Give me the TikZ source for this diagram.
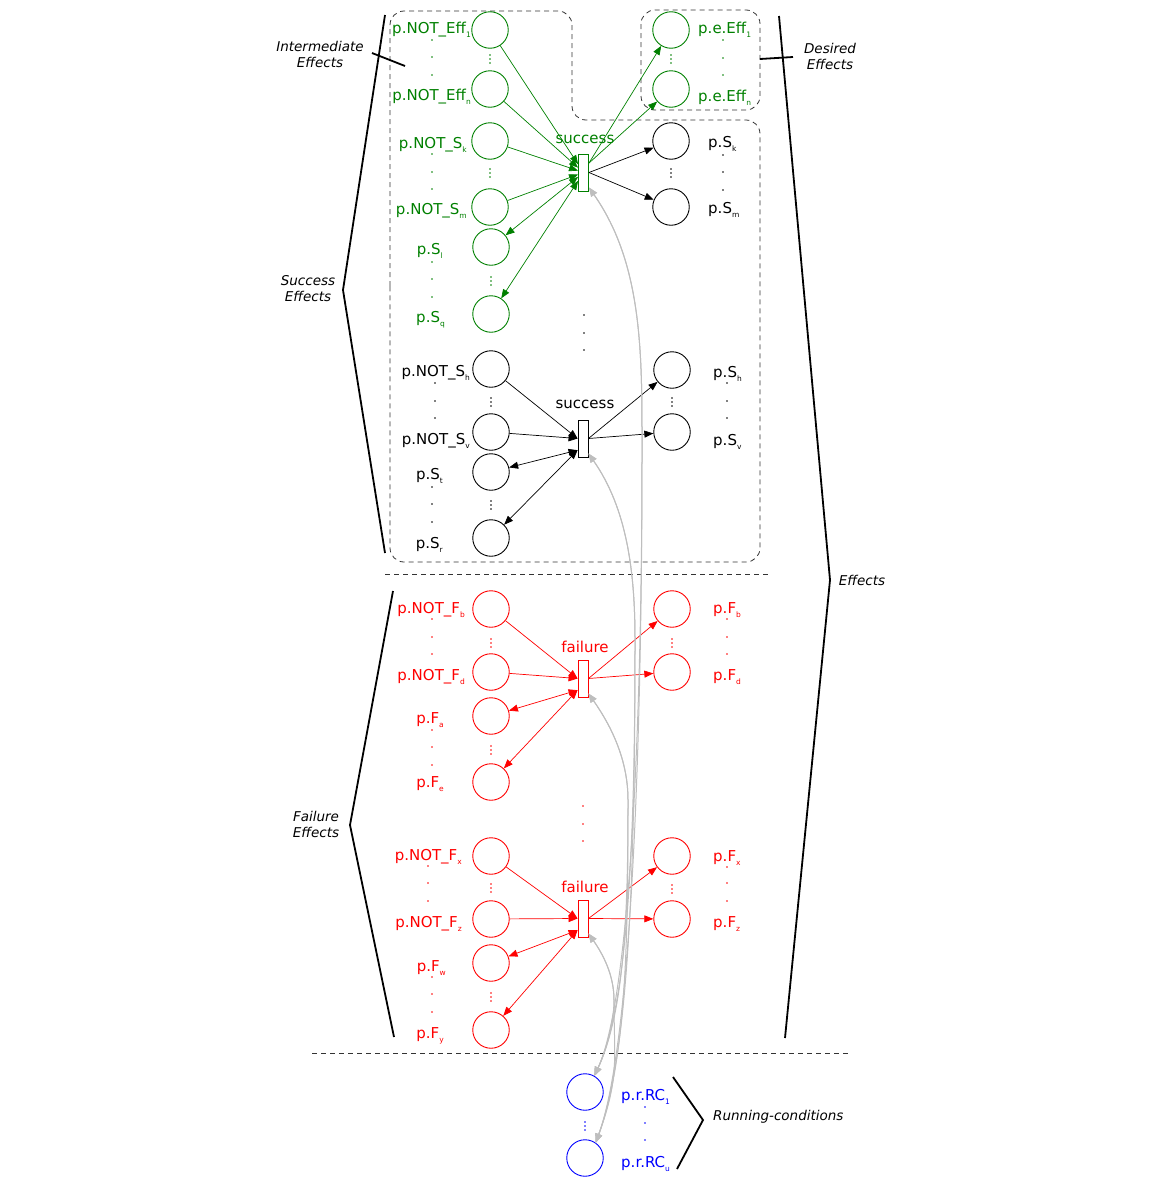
\documentclass[tikz,border=0pt]{standalone}
\usepackage{fontspec}
\setmainfont{DejaVu Sans}
\usetikzlibrary{arrows.meta}
\definecolor{gr}{RGB}{0,128,0}
\definecolor{rd}{RGB}{255,0,0}
\definecolor{bl}{RGB}{0,0,255}
\definecolor{lg}{RGB}{190,190,190}
\newcommand\sbs[1]{\raisebox{-4pt}{\fontsize{7.5}{7.5}\selectfont #1}}
\newcommand\tdots[4]{\fill (#1,-#2) circle (0.9pt) (#1,-#3) circle (0.9pt) (#1,-#4) circle (0.9pt);}
\newcommand\vel[2]{\fill (#1,-#2+4) circle (0.8pt) (#1,-#2) circle (0.8pt) (#1,-#2-4) circle (0.8pt);}
\begin{document}
\begin{tikzpicture}[x=1pt,y=1pt,
  pl/.style={circle,draw,minimum size=36.5pt,inner sep=0pt,line width=0.9pt},
  tr/.style={rectangle,draw,minimum width=10pt,minimum height=37pt,inner sep=0pt,line width=0.9pt,fill=white},
  lab/.style={font=\fontsize{15}{15}\selectfont,inner sep=0pt},
  labl/.style={lab,anchor=base east},
  labr/.style={lab,anchor=base west},
  side/.style={font=\fontsize{13.5}{16}\selectfont\itshape,align=center,inner sep=0pt},
  arc/.style={line width=0.7pt},
  >={Triangle[length=9pt,width=7pt]},
  brk/.style={line width=1.8pt,black},
  dsh/.style={dash pattern=on 5pt off 4pt,line width=0.8pt,draw=black!80},
  rc/.style={draw=lg,line width=1pt,<->},
]
\useasboundingbox (0,0) rectangle (1151,-1178);

% dashed frames
\draw[dsh,rounded corners=14pt] (390,-300) -- (390,-11) -- (572,-11) -- (572,-120) -- (760,-120) -- (760,-562) -- (390,-562) -- cycle;
\draw[dsh,rounded corners=14pt] (641,-10) rectangle (760,-110);
\draw[dsh] (385,-574) -- (770,-574);
\draw[dsh] (312,-1053) -- (850,-1053);

% brackets
\draw[brk] (385,-15) -- (343,-290) -- (385,-553);
\draw[brk] (372,-53) -- (405,-66);
\draw[brk] (393,-591) -- (350,-825) -- (394,-1037);
\draw[brk] (779,-16) -- (830,-580) -- (785,-1038);
\draw[brk] (760,-59) -- (793,-57);
\draw[brk] (673,-1077) -- (703,-1120) -- (677,-1169);
\node[side] (lInt) at (320,-54) {Intermediate\\Effects};
\node[side] (lSuc) at (308,-289) {Success\\Effects};
\node[side] (lFai) at (316,-824) {Failure\\Effects};
\node[side] (lEff) at (862,-580) {Effects};
\node[side] (lDes) at (830,-56) {Desired\\Effects};
\node[side,anchor=west] (lRun) at (713,-1117) {Running-conditions};

% ---------------- green (first success) ----------------
\begin{scope}[gr]
\node[pl] (NEff1) at (490,-30) {};
\node[pl] (NEffn) at (490,-89) {};
\node[pl] (NSk) at (490,-141) {};
\node[pl] (NSm) at (490,-207) {};
\node[pl] (Sl) at (491,-247) {};
\node[pl] (Sq) at (491,-314) {};
\node[pl] (eEff1) at (671,-30) {};
\node[pl] (eEffn) at (671,-89) {};
\node[tr] (Tg) at (583.5,-172.5) {};
\node[lab,anchor=base] (tgl) at (585,-143) {success};
\node[labl] at (471,-33) {p.NOT\_Eff\sbs{1}};
\node[labl] at (471,-100) {p.NOT\_Eff\sbs{n}};
\node[labl] at (467,-148) {p.NOT\_S\sbs{k}};
\node[labl] at (467,-214) {p.NOT\_S\sbs{m}};
\node[labl] at (443,-254) {p.S\sbs{l}};
\node[labl] at (445,-322) {p.S\sbs{q}};
\node[labr] at (698,-33) {p.e.Eff\sbs{1}};
\node[labr] at (698,-101) {p.e.Eff\sbs{n}};
\tdots{432}{40}{57}{75}
\tdots{432}{154}{172}{189}
\tdots{432}{262}{279}{297}
\tdots{723}{40}{58}{75}
\vel{490}{59}
\vel{490}{173}
\vel{491}{281}
\vel{671}{59}
\draw[arc,->] (NEff1) -- (Tg);
\draw[arc,->] (NEffn) -- (Tg);
\draw[arc,->] (NSk) -- (Tg);
\draw[arc,->] (NSm) -- (Tg);
\draw[arc,<->] (Tg) -- (Sl);
\draw[arc,<->] (Tg) -- (Sq);
\draw[arc,->] (Tg.60) -- (eEff1);
\draw[arc,->] (Tg.60) -- (eEffn);
\end{scope}
\node[pl] (Sk) at (671,-141) {};
\node[pl] (Sm) at (671,-207) {};
\node[labr] at (708,-147) {p.S\sbs{k}};
\node[labr] at (708,-213) {p.S\sbs{m}};
\tdots{723}{155}{172}{190}
\vel{671}{173}
\draw[arc,->] (Tg.east) -- (Sk);
\draw[arc,->] (Tg.east) -- (Sm);

\tdots{584}{315}{333}{350}

% ---------------- black (second success) ----------------
\node[pl] (NSh) at (491,-369) {};
\node[pl] (NSv) at (491,-432) {};
\node[pl] (St) at (491,-472) {};
\node[pl] (Sr) at (491,-538) {};
\node[pl] (Sh) at (672,-370) {};
\node[pl] (Sv) at (672,-432) {};
\node[tr] (Tb) at (583,-438.5) {};
\node[lab,anchor=base] (tbl) at (585,-408) {success};
\node[labl] at (470,-376) {p.NOT\_S\sbs{h}};
\node[labl] at (470,-444) {p.NOT\_S\sbs{v}};
\node[labl] at (443,-479) {p.S\sbs{t}};
\node[labl] at (443,-548) {p.S\sbs{r}};
\node[labr] at (713,-377) {p.S\sbs{h}};
\node[labr] at (713,-445) {p.S\sbs{v}};
\tdots{435}{383}{401}{418}
\tdots{432}{487}{504}{522}
\tdots{727}{383}{401}{418}
\vel{491}{402}
\vel{491}{505}
\vel{672}{402}
\draw[arc,->] (NSh) -- (Tb.west);
\draw[arc,->] (NSv) -- (Tb.west);
\draw[arc,<->] (Tb.-115) -- (St);
\draw[arc,<->] (Tb.-115) -- (Sr);
\draw[arc,->] (Tb.east) -- (Sh);
\draw[arc,->] (Tb.east) -- (Sv);

% ---------------- red ----------------
\begin{scope}[rd]
\node[pl] (NFb) at (491,-609) {};
\node[pl] (NFd) at (491,-672) {};
\node[pl] (Fa) at (491,-716) {};
\node[pl] (Fe) at (491,-782) {};
\node[pl] (Fb) at (672,-609) {};
\node[pl] (Fd) at (672,-672) {};
\node[tr] (Tr1) at (583,-678.5) {};
\node[lab,anchor=base] (tr1l) at (585,-652) {failure};
\node[labl] at (465,-613) {p.NOT\_F\sbs{b}};
\node[labl] at (465,-680) {p.NOT\_F\sbs{d}};
\node[labl] at (444,-723) {p.F\sbs{a}};
\node[labl] at (444,-787) {p.F\sbs{e}};
\node[labr] at (713,-613) {p.F\sbs{b}};
\node[labr] at (713,-680) {p.F\sbs{d}};
\tdots{432}{619}{637}{654}
\tdots{432}{730}{747}{765}
\tdots{727}{619}{637}{654}
\vel{491}{643}
\vel{491}{750}
\vel{672}{643}
\draw[arc,->] (NFb) -- (Tr1.west);
\draw[arc,->] (NFd) -- (Tr1.west);
\draw[arc,<->] (Tr1.-115) -- (Fa);
\draw[arc,<->] (Tr1.-115) -- (Fe);
\draw[arc,->] (Tr1.east) -- (Fb);
\draw[arc,->] (Tr1.east) -- (Fd);

\tdots{583}{806}{824}{841}

\node[pl] (NFx) at (491,-856) {};
\node[pl] (NFz) at (491,-919) {};
\node[pl] (Fw) at (491,-963) {};
\node[pl] (Fy) at (491,-1030) {};
\node[pl] (Fx) at (672,-856) {};
\node[pl] (Fz) at (672,-919) {};
\node[tr] (Tr2) at (583,-918.5) {};
\node[lab,anchor=base] (tr2l) at (585,-892) {failure};
\node[labl] at (462,-860) {p.NOT\_F\sbs{x}};
\node[labl] at (462,-927) {p.NOT\_F\sbs{z}};
\node[labl] at (446,-971) {p.F\sbs{w}};
\node[labl] at (444,-1038) {p.F\sbs{y}};
\node[labr] at (713,-861) {p.F\sbs{x}};
\node[labr] at (713,-927) {p.F\sbs{z}};
\tdots{428}{866}{883}{901}
\tdots{432}{977}{994}{1012}
\tdots{727}{867}{883}{901}
\vel{491}{888}
\vel{491}{997}
\vel{672}{889}
\draw[arc,->] (NFx) -- (Tr2.west);
\draw[arc,->] (NFz) -- (Tr2.west);
\draw[arc,<->] (Tr2.-115) -- (Fw);
\draw[arc,<->] (Tr2.-115) -- (Fy);
\draw[arc,->] (Tr2.east) -- (Fx);
\draw[arc,->] (Tr2.east) -- (Fz);
\end{scope}

% ---------------- blue ----------------
\begin{scope}[bl]
\node[pl] (RC1) at (585,-1092) {};
\node[pl] (RCu) at (585,-1158) {};
\node[labr] at (621,-1100) {p.r.RC\sbs{1}};
\node[labr] at (621,-1167) {p.r.RC\sbs{u}};
\tdots{645}{1107}{1123}{1140}
\vel{585}{1126}
\end{scope}

% ---------------- gray read arcs ----------------
\coordinate (gv) at (642,-450);
\coordinate (bv) at (635,-640);
\coordinate (r1v) at (628,-800);
\coordinate (r2v) at (614,-1000);
\draw[rc] (Tg.-70) to[out=-55,in=90,looseness=0.9] (gv) .. controls +(0,-300) and +(65:80) .. (RC1.60);
\draw[rc] (Tg.-70) to[out=-55,in=90,looseness=0.9] (gv) .. controls +(0,-320) and +(70:100) .. (RCu.55);
\draw[rc] (Tb.-70) to[out=-55,in=90,looseness=0.9] (bv) .. controls +(0,-200) and +(65:80) .. (RC1.60);
\draw[rc] (Tb.-70) to[out=-55,in=90,looseness=0.9] (bv) .. controls +(0,-220) and +(70:100) .. (RCu.55);
\draw[rc] (Tr1.-70) to[out=-55,in=90,looseness=0.9] (r1v) .. controls +(0,-120) and +(65:70) .. (RC1.60);
\draw[rc] (Tr1.-70) to[out=-55,in=90,looseness=0.9] (r1v) .. controls +(0,-140) and +(70:90) .. (RCu.55);
\draw[rc] (Tr2.-70) to[out=-55,in=90,looseness=0.9] (r2v) .. controls +(0,-25) and +(65:25) .. (RC1.60);
\draw[rc] (Tr2.-70) to[out=-55,in=90,looseness=0.9] (r2v) .. controls +(0,-60) and +(70:70) .. (RCu.55);
\end{tikzpicture}
\end{document}
